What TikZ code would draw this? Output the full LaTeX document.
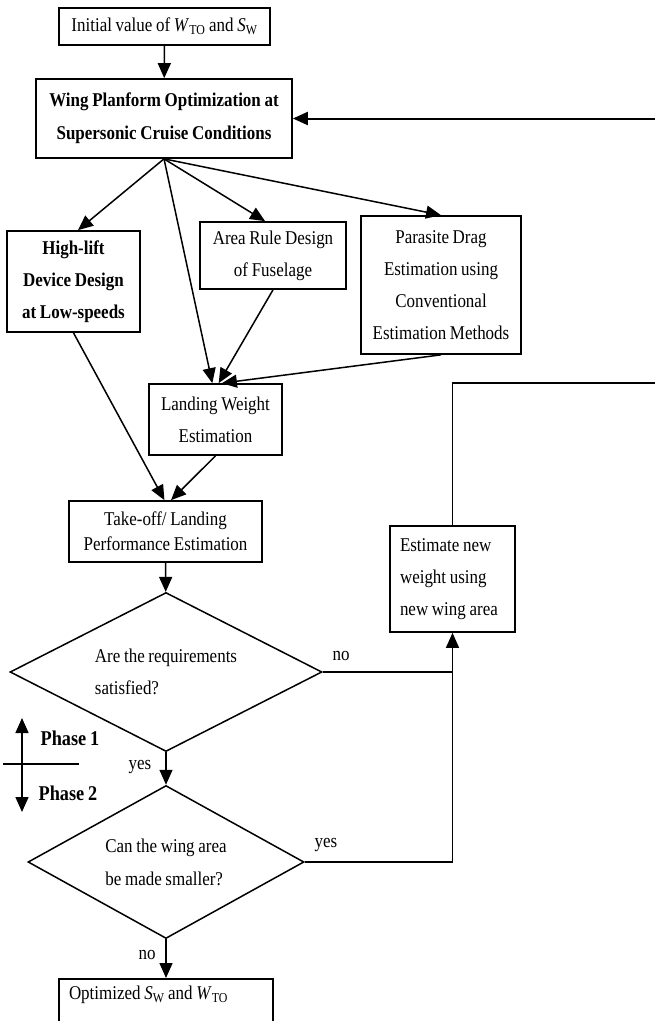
\documentclass[tikz,border=0pt]{standalone}
\usepackage{fontspec}
\setmainfont{Liberation Serif}[FakeStretch=0.87,WordSpace=0.87]
\usetikzlibrary{arrows.meta,shapes.geometric}
\newcommand{\Wto}{\textit{W}\textsubscript{TO}}
\newcommand{\Sw}{\textit{S}\textsubscript{W}}
\begin{document}
\begin{tikzpicture}[x=1pt,y=-1pt,
    font=\fontsize{19.5}{32}\selectfont,
    box/.style={draw,line width=1.7pt,align=center,inner sep=2pt},
    decision/.style={draw,line width=1.5pt,shape=diamond,aspect=2,inner sep=0pt,align=left},
    arr/.style={line width=1.5pt,-{Triangle[length=15pt,width=13pt]}},
    lin/.style={line width=1.5pt}]
  \useasboundingbox (0,0) rectangle (655,1021);
  \node[box,minimum width=211pt,minimum height=37pt] (init) at (164.5,26.5) {Initial value of \Wto{} and \Sw};
  \node[box,font=\bfseries\fontsize{19.5}{33}\selectfont,minimum width=256pt,minimum height=79pt] (wing) at (164,118.5)
    {Wing Planform Optimization at\\Supersonic Cruise Conditions};
  \node[box,font=\bfseries\fontsize{19.5}{32}\selectfont,minimum width=133pt,minimum height=101pt] (hilift) at (73.5,281.5)
    {High-lift\\Device Design\\at Low-speeds};
  \node[box,minimum width=146pt,minimum height=67pt] (area) at (273,255.5) {Area Rule Design\\of Fuselage};
  \node[box,minimum width=160pt,minimum height=138pt] (drag) at (441,285)
    {Parasite Drag\\Estimation using\\Conventional\\Estimation Methods};
  \node[box,minimum width=133pt,minimum height=71pt] (landing) at (215.5,419.5) {Landing Weight\\Estimation};
  \node[box,font=\fontsize{19.5}{25}\selectfont,minimum width=193pt,minimum height=61pt] (perf) at (165.5,531.5)
    {Take-off/ Landing\\Performance Estimation};
  \node[box,align=left,text width=105pt,inner xsep=10pt,minimum height=106pt] (newweight) at (452.5,579)
    {\spaceskip=0pt\xspaceskip=0pt Estimate new\\weight using\\new wing area};
  \node[decision,minimum width=312pt,minimum height=159pt] (req) at (166,672)
    {Are the requirements\\satisfied?};
  \node[decision,font=\fontsize{19.5}{33}\selectfont,minimum width=276pt,minimum height=153pt] (smaller) at (166,862)
    {Can the wing area\\be made smaller?};
  \node[box,anchor=north,align=left,text width=194pt,inner xsep=10pt,inner ysep=7pt] (final) at (166,978)
    {\spaceskip=0pt\xspaceskip=0pt Optimized \Sw{} and \Wto\\ \mbox{}};
  \coordinate (join) at (newweight.south |- req.east);
  \coordinate (loopin) at (655,118.5);
  \coordinate (loopout) at (655,383);
  \coordinate (phaseup) at (22,718);
  \coordinate (phasedown) at (22,812);
  \coordinate (phasel) at (3,764);
  \coordinate (phaser) at (79,764);
  \draw[arr] (init) -- (wing);
  \draw[arr,line width=2pt] (loopin) -- (wing.east);
  \draw[arr] (wing.south) -- (hilift.85);
  \draw[arr] (wing.south) -- (area.103);
  \draw[arr] (wing.south) -- (drag.north);
  \draw[arr] (wing.south) -- (landing.95);
  \draw[arr] (area.south) -- (landing.85);
  \draw[arr] (drag.south) -- (landing.80);
  \draw[arr] (hilift.south) -- (perf.92);
  \draw[arr] (landing.south) -- (perf.80);
  \draw[arr] (perf) -- (req);
  \draw[lin] (req.east) -- (join);
  \draw[lin] (smaller.east) -| (join);
  \draw[arr] (join) -- (newweight.south);
  \draw[lin] (newweight.north) |- (loopout);
  \draw[arr] (req.south) -- (smaller.north);
  \draw[arr] (smaller.south) -- (final.north);
  \node (no1) at (341,656) {no};
  \node (yes1) at (140,767) {yes};
  \node (yes2) at (326,845) {yes};
  \node (no2) at (147,955) {no};
  \draw[lin,{Triangle[length=15pt,width=13pt]}-{Triangle[length=15pt,width=13pt]}] (phaseup) -- (phasedown);
  \draw[lin] (phasel) -- (phaser);
  \node[font=\bfseries\fontsize{21}{22}\selectfont] (phase1) at (70,738) {Phase 1};
  \node[font=\bfseries\fontsize{21}{22}\selectfont] (phase2) at (68,793) {Phase 2};
\end{tikzpicture}
\end{document}
